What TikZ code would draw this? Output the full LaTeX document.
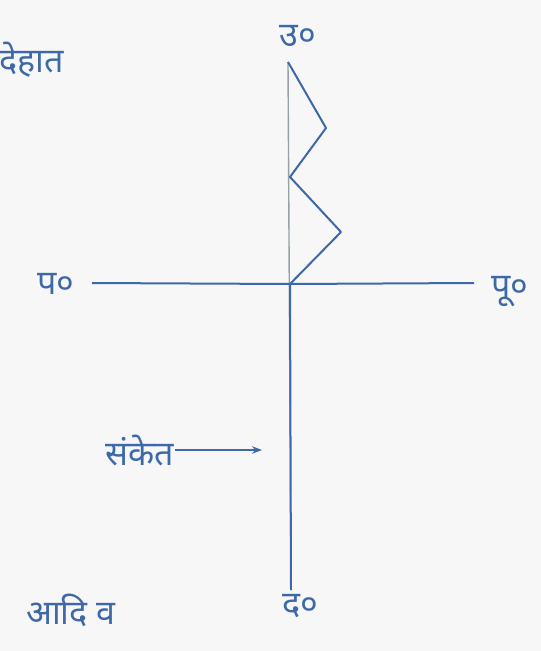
\documentclass[tikz,border=0pt]{standalone}
\usepackage{fontspec}
\newfontfamily\hindifont[Script=Devanagari]{Noto Sans}
\usetikzlibrary{positioning,arrows.meta}
\definecolor{inkblue}{RGB}{62,104,168}
\definecolor{paperwhite}{RGB}{246,247,246}
\definecolor{pencilgrey}{RGB}{150,160,165}

\begin{document}
\begin{tikzpicture}[x=1pt,y=-1pt,
  lbl/.style={text=inkblue, font=\hindifont\fontsize{34}{38}\selectfont, inner sep=1pt},
  ink/.style={draw=inkblue, line width=2pt, line join=round}]
\fill[paperwhite] (0,0) rectangle (541,651);
\useasboundingbox (0,0) rectangle (541,651);
% compass labels
\node[lbl] (north) at (298,36) {उ०};
\node[lbl] (west)  at (56,284) {प०};
\node[lbl] (east)  at (510,292) {पू०};
\node[lbl] (south) at (300,606) {द०};
\node[lbl, anchor=west] (village) at (-2,60) {देहात};
\node[lbl, anchor=west] (symbol) at (104,450) {संकेत};
\node[lbl, anchor=west] (misc) at (25,610) {आदि व};
% axes
\coordinate (top) at (288,62);
\coordinate (westend) at (92,283);
\coordinate (centre) at (290,284);
\coordinate (eastend) at (474,283);
\coordinate (bottom) at (291,590);
\coordinate (arrowtip) at (262,452);
\draw[pencilgrey, line width=1.4pt] (top) -- (bottom);
\draw[ink] (westend) -- (centre) -- (eastend);
\draw[ink] (centre) -- (bottom);
\draw[ink, -{Stealth[length=10pt]}] (symbol.east) -- (symbol.east -| arrowtip);
% zig-zag
\draw[ink] (top) -- (326,128) -- (290,177) -- (341,232) -- (centre);
\end{tikzpicture}
\end{document}
